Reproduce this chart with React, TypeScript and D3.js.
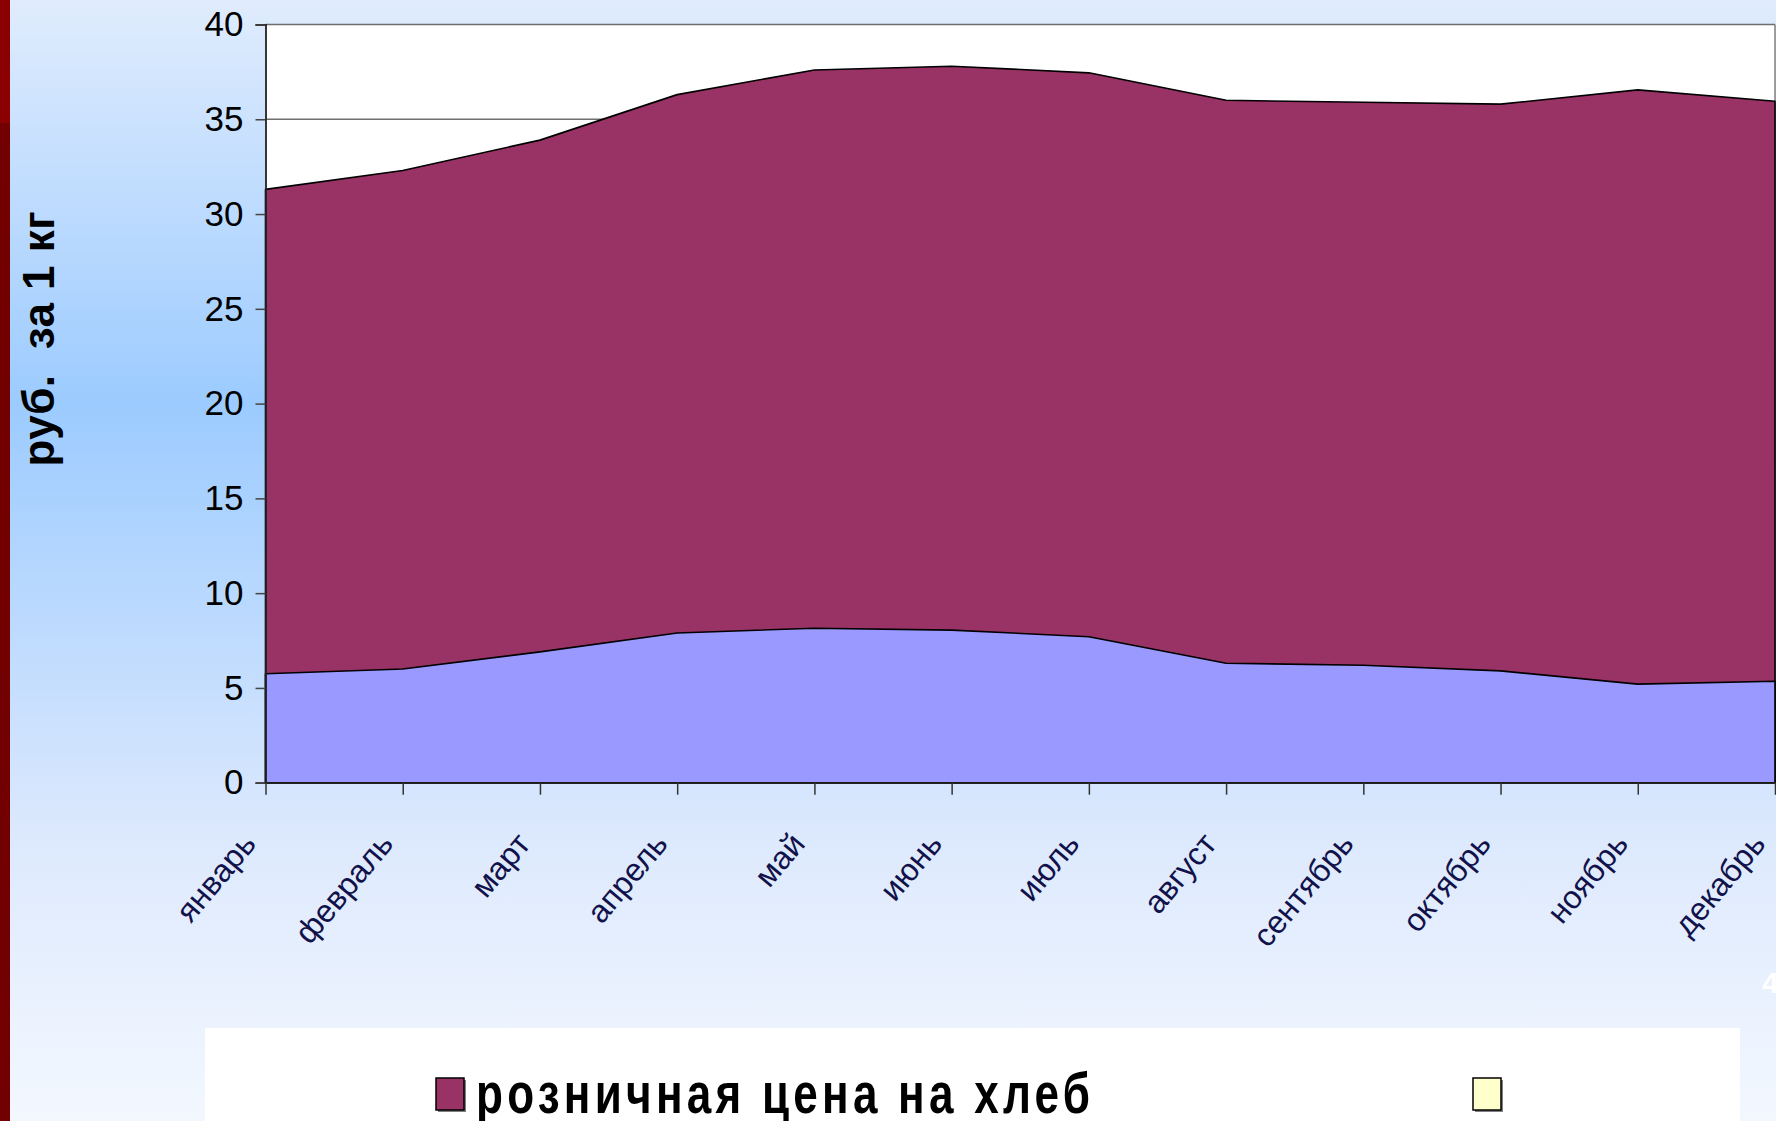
import React, { useEffect, useRef } from "react";
import * as d3 from "d3";

// months on the x axis
const months = [
  "январь", "февраль", "март", "апрель", "май", "июнь",
  "июль", "август", "сентябрь", "октябрь", "ноябрь", "декабрь",
];
// retail bread price, rub per kg (back area)
const retailPrice = [31.3, 32.3, 33.9, 36.3, 37.6, 37.8, 37.45, 36.0, 35.9, 35.8, 36.55, 35.95];
// second series (front area)
const secondPrice = [5.75, 6.0, 6.9, 7.9, 8.15, 8.05, 7.7, 6.3, 6.2, 5.9, 5.2, 5.35];
const yTicks = [0, 5, 10, 15, 20, 25, 30, 35, 40];
const legendNames = ["розничная цена на хлеб", ""];
const legendColors = ["#993366", "#FFFFCC"];

export default function App() {
  const ref = useRef<SVGSVGElement>(null);
  const width = 1776;
  const height = 1121;
  const margin = { top: 24.5, right: 1, bottom: 338.3, left: 265.5 };

  useEffect(() => {
    const svg = d3.select(ref.current);
    svg.selectAll("*").remove();

    // slide background
    const defs = svg.append("defs");
    const grad = defs
      .append("linearGradient")
      .attr("id", "bg")
      .attr("x1", 0)
      .attr("y1", 0)
      .attr("x2", 0)
      .attr("y2", 1);
    grad.append("stop").attr("offset", 0).attr("stop-color", "#e0ecfd");
    grad.append("stop").attr("offset", 0.36).attr("stop-color", "#9ccbff");
    grad.append("stop").attr("offset", 0.75).attr("stop-color", "#dde9fd");
    grad.append("stop").attr("offset", 1).attr("stop-color", "#f3f8ff");
    svg.append("rect").attr("width", width).attr("height", height).attr("fill", "url(#bg)");

    // dark red strip on the left
    svg.append("rect").attr("x", 0).attr("y", 0).attr("width", 10).attr("height", 123).attr("fill", "#8b0000");
    svg.append("rect").attr("x", 0).attr("y", 123).attr("width", 10).attr("height", height - 123).attr("fill", "#720000");

    const x = d3
      .scalePoint()
      .domain(months)
      .range([margin.left, width - margin.right]);
    const y = d3
      .scaleLinear()
      .domain([0, 40])
      .range([height - margin.bottom, margin.top]);

    // plot area
    svg
      .append("rect")
      .attr("x", margin.left)
      .attr("y", margin.top)
      .attr("width", width - margin.right - margin.left)
      .attr("height", y(0) - margin.top)
      .attr("fill", "#ffffff");

    // gridlines
    svg
      .selectAll("line.grid")
      .data(yTicks.slice(1))
      .enter()
      .append("line")
      .attr("x1", margin.left)
      .attr("x2", width - margin.right)
      .attr("y1", (d) => y(d))
      .attr("y2", (d) => y(d))
      .attr("stroke", "#6e6e6e")
      .attr("stroke-width", 1.5);
    svg
      .append("line")
      .attr("x1", width - margin.right)
      .attr("x2", width - margin.right)
      .attr("y1", margin.top)
      .attr("y2", y(0))
      .attr("stroke", "#808080")
      .attr("stroke-width", 1.5);

    // areas, back to front
    const area = d3
      .area<number>()
      .x((d, i) => x(months[i]) as number)
      .y0(y(0))
      .y1((d) => y(d));
    [
      { values: retailPrice, color: "#993366" },
      { values: secondPrice, color: "#9999ff" },
    ].forEach((s) => {
      svg
        .append("path")
        .attr("d", area(s.values))
        .attr("fill", s.color)
        .attr("stroke", "#000000")
        .attr("stroke-width", 1.6)
        .attr("stroke-linejoin", "round");
    });

    // y axis
    const yAxis = svg
      .append("g")
      .attr("transform", `translate(${margin.left},0)`)
      .call(d3.axisLeft(y).tickValues(yTicks).tickSize(10).tickPadding(12));
    yAxis.select(".domain").attr("stroke", "#222").attr("stroke-width", 1.8);
    yAxis.selectAll(".tick line").attr("stroke", "#444").attr("stroke-width", 1.5);
    yAxis
      .selectAll(".tick text")
      .attr("font-family", "Arial, 'Liberation Sans', sans-serif")
      .attr("font-size", 35)
      .attr("fill", "#000");

    // x axis
    const xAxis = svg
      .append("g")
      .attr("transform", `translate(0,${y(0)})`)
      .call(d3.axisBottom(x).tickSize(12).tickSizeOuter(0).tickFormat(() => ""));
    xAxis.select(".domain").attr("stroke", "#222").attr("stroke-width", 1.8);
    xAxis.selectAll(".tick line").attr("stroke", "#333").attr("stroke-width", 1.5);

    svg
      .selectAll("text.month")
      .data(months)
      .enter()
      .append("text")
      .attr("class", "month")
      .attr("transform", (d) => `translate(${(x(d) as number) - 8},${y(0) + 62}) rotate(-50)`)
      .attr("text-anchor", "end")
      .attr("font-family", "Arial, 'Liberation Sans', sans-serif")
      .attr("font-size", 32)
      .attr("fill", "#12124a")
      .text((d) => d);

    // y axis title
    svg
      .append("text")
      .attr("transform", "translate(54,339) rotate(-90)")
      .attr("text-anchor", "middle")
      .attr("font-family", "Arial, 'Liberation Sans', sans-serif")
      .attr("font-weight", "bold")
      .attr("font-size", 44)
      .attr("textLength", 255)
      .attr("lengthAdjust", "spacing")
      .attr("fill", "#000")
      .style("white-space", "pre")
      .text("руб.  за 1 кг");

    // slide number, cut off at the right
    svg
      .append("text")
      .attr("x", 1762)
      .attr("y", 993)
      .attr("font-family", "Arial, 'Liberation Sans', sans-serif")
      .attr("font-weight", "bold")
      .attr("font-size", 30)
      .attr("fill", "#ffffff")
      .text("4");

    // legend
    svg.append("rect").attr("x", 205).attr("y", 1028).attr("width", 1535).attr("height", 100).attr("fill", "#ffffff");
    const legendX = [436, 1473];
    legendNames.forEach((name, i) => {
      const g = svg.append("g").attr("transform", `translate(${legendX[i]},1078)`);
      g.append("rect").attr("x", 2).attr("y", 2).attr("width", 28).attr("height", 32).attr("fill", "#808080");
      g.append("rect")
        .attr("width", 28)
        .attr("height", 32)
        .attr("fill", legendColors[i])
        .attr("stroke", "#000")
        .attr("stroke-width", 1.5);
      if (name) {
        g.append("g")
          .attr("transform", "translate(40,35) scale(0.76,1)")
          .append("text")
          .attr("font-family", "Arial, 'Liberation Sans', sans-serif")
          .attr("font-weight", "bold")
          .attr("font-size", 58)
          .attr("textLength", 614 / 0.76)
          .attr("lengthAdjust", "spacing")
          .attr("fill", "#000")
          .text(name);
      }
    });
  }, []);

  return (
    <svg
      ref={ref}
      width={width}
      height={height}
      style={{ position: "absolute", left: 0, top: 0, display: "block" }}
    />
  );
}
